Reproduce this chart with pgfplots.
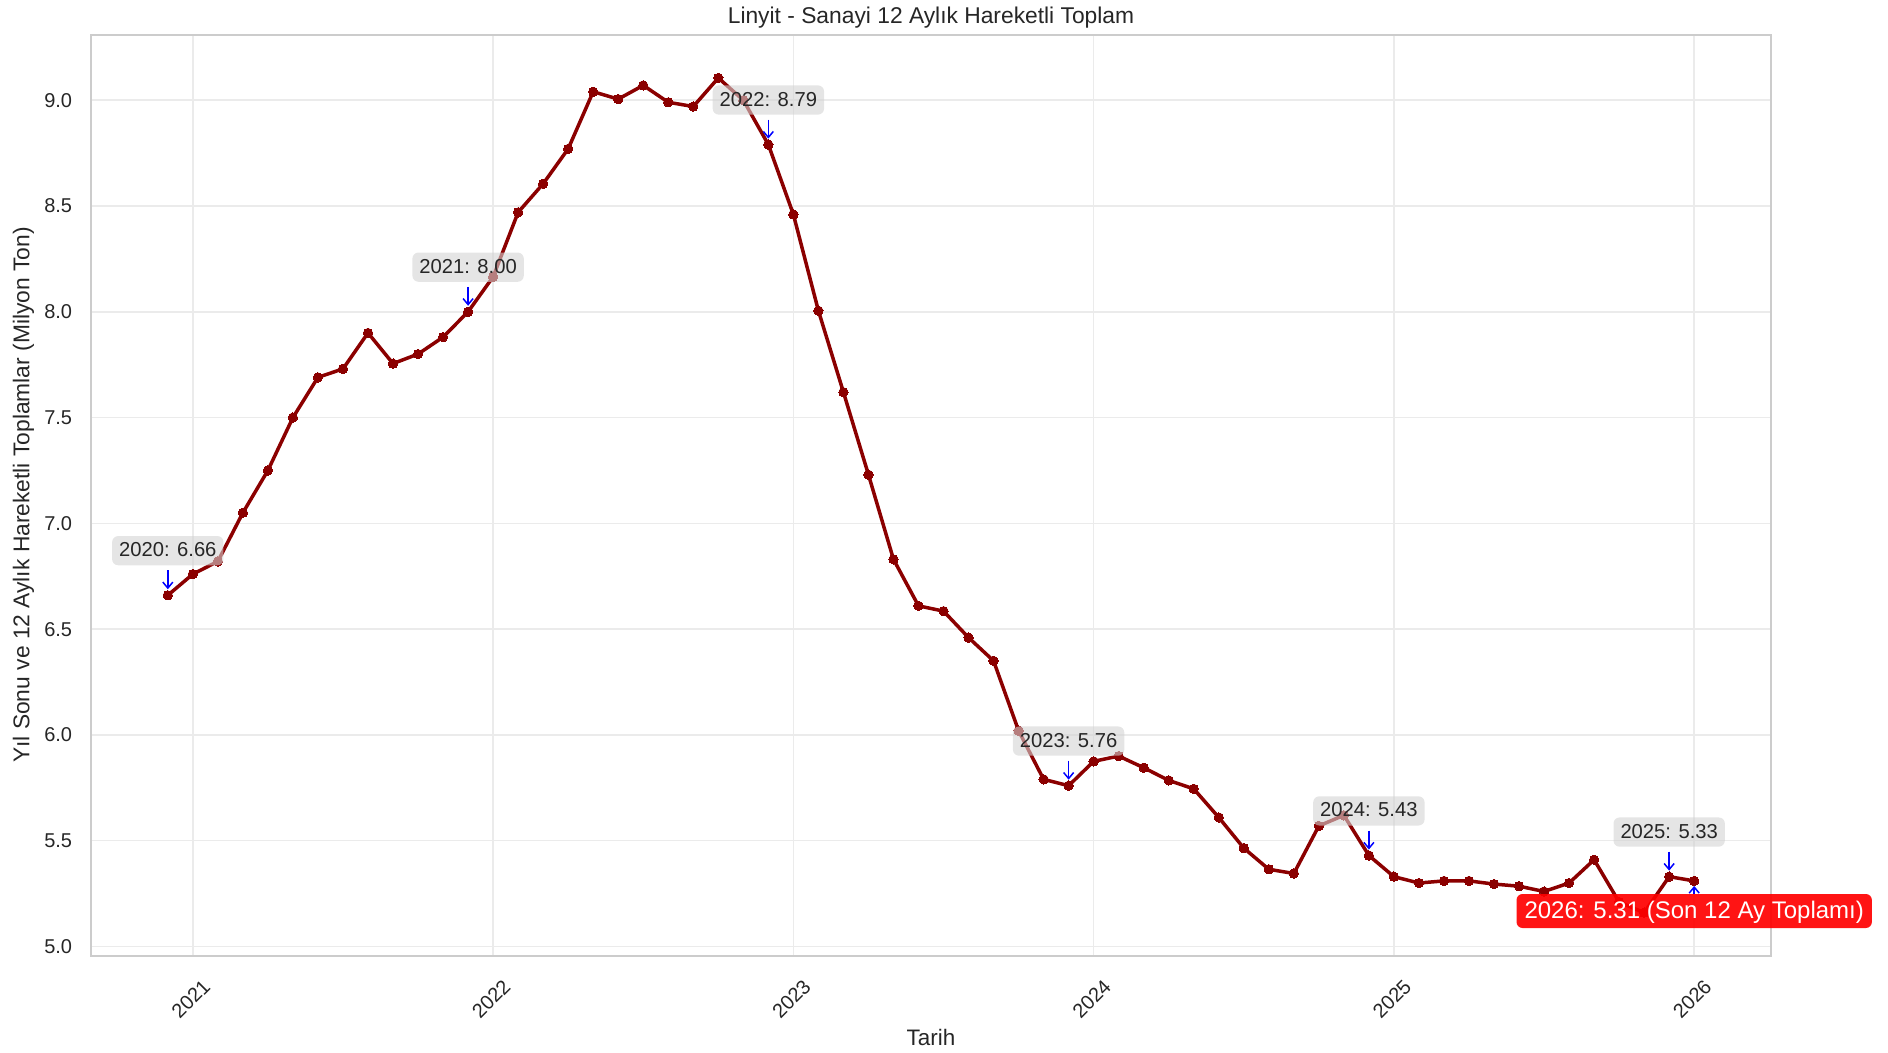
\documentclass[border=0pt]{standalone}
\usepackage{fontspec}
\setmainfont{Liberation Sans}
\usepackage{pgfplots}
\usepackage{pgfplotstable}
\pgfplotsset{compat=1.18}
\usetikzlibrary{arrows.meta}

\definecolor{txt}{HTML}{262626}
\definecolor{framec}{HTML}{CCCCCC}
\definecolor{gridc}{HTML}{EBEBEB}
\definecolor{linec}{HTML}{8B0000}
\definecolor{boxc}{HTML}{D3D3D3}

% month index: 0 = Dec 2020 ... 61 = Jan 2026
\pgfplotstableread{
m v
0 6.66
1 6.76
2 6.82
3 7.05
4 7.25
5 7.50
6 7.69
7 7.73
8 7.90
9 7.755
10 7.80
11 7.88
12 8.00
13 8.165
14 8.47
15 8.605
16 8.77
17 9.04
18 9.005
19 9.07
20 8.99
21 8.97
22 9.105
23 9.00
24 8.79
25 8.46
26 8.005
27 7.62
28 7.23
29 6.83
30 6.61
31 6.585
32 6.46
33 6.35
34 6.02
35 5.79
36 5.76
37 5.875
38 5.90
39 5.845
40 5.785
41 5.745
42 5.61
43 5.465
44 5.365
45 5.345
46 5.57
47 5.62
48 5.43
49 5.33
50 5.30
51 5.31
52 5.31
53 5.295
54 5.285
55 5.26
56 5.30
57 5.41
58 5.21
59 5.16
60 5.33
61 5.31
}\lignite

\begin{document}
\begin{tikzpicture}[
  annot/.style={fill=boxc, fill opacity=0.6, text opacity=1, text=txt,
    rounded corners=3pt, inner xsep=3.5pt, inner ysep=3pt,
    text height=7.3pt, text depth=1.3pt, font=\fontsize{10.1}{12}\selectfont,
    anchor=base, yshift=19.3pt},
  pointer/.style={blue, line width=0.75pt, -{Straight Barb[length=3pt, width=5pt]}}
]
\begin{axis}[
  scale only axis, width=839.5pt, height=460.5pt,
  xmin=-3.05, xmax=64.05, ymin=4.957, ymax=9.31,
  clip=false,
  xtick={1,13,25,37,49,61},
  xticklabels={2021,2022,2023,2024,2025,2026},
  ytick={5,5.5,6,6.5,7,7.5,8,8.5,9},
  yticklabel style={/pgf/number format/fixed, /pgf/number format/fixed zerofill,
    /pgf/number format/precision=1, /pgf/number format/assume math mode=true},
  grid=major,
  major grid style={gridc, line width=0.75pt},
  axis line style={framec, line width=1pt},
  major tick length=0pt,
  ticklabel style={font=\fontsize{10}{12}\selectfont, text=txt, inner sep=0pt},
  xticklabel style={xshift=-1pt, yshift=-21.7pt, rotate=45, anchor=center},
  yticklabel style={anchor=east, xshift=-9.5pt},
  every axis title/.style={at={(axis description cs:0.5,1)}, anchor=base, yshift=5.7pt,
    font=\fontsize{11.4}{13}\selectfont, text=txt},
  every axis x label/.style={at={(axis description cs:0.5,0)}, anchor=base, yshift=-44.9pt,
    font=\fontsize{11.2}{13}\selectfont, text=txt},
  every axis y label/.style={at={(axis description cs:0,0.5)}, xshift=-31pt, rotate=90, anchor=base,
    font=\fontsize{11.4}{13}\selectfont, text=txt},
  title={Linyit - Sanayi 12 Aylık Hareketli Toplam},
  xlabel={Tarih},
  ylabel={Yıl Sonu ve 12 Aylık Hareketli Toplamlar (Milyon Ton)},
]
\addplot[linec, line width=1.75pt, mark=*, mark size=2.35pt,
  mark options={solid, fill=linec, draw=linec, line width=0pt}]
  table[x=m, y=v] {\lignite};

% anchor points of the annotations (year-end values)
\coordinate (a20) at (axis cs:0,6.66);
\coordinate (a21) at (axis cs:12,8.00);
\coordinate (a22) at (axis cs:24,8.79);
\coordinate (a23) at (axis cs:36,5.76);
\coordinate (a24) at (axis cs:48,5.43);
\coordinate (a25) at (axis cs:60,5.33);
\coordinate (a26) at (axis cs:61,5.31);
\end{axis}

% annotations drawn above the line
\foreach \p/\t in {a20/{2020: 6.66}, a21/{2021: 8.00}, a22/{2022: 8.79},
                   a23/{2023: 5.76}, a24/{2024: 5.43}, a25/{2025: 5.33}} {
  \node[annot] at (\p) {\t};
  \draw[pointer] ([yshift=12.5pt]\p) -- ([yshift=3pt]\p);
}
\draw[pointer] ([yshift=-6.5pt]a26) -- ([yshift=-2.5pt]a26);
\node[fill=red, fill opacity=0.92, text opacity=1, text=white, rounded corners=3pt,
  inner xsep=4pt, inner ysep=3.5pt, text height=8.8pt, text depth=1.2pt,
  font=\fontsize{12}{14}\selectfont, anchor=base, yshift=-18.85pt]
  at (a26) {2026: 5.31 (Son 12 Ay Toplamı)};

\path ([shift={(-45.75pt,-48.5pt)}]current axis.south west)
  rectangle ([shift={(58.75pt,16pt)}]current axis.north east);
\end{tikzpicture}
\end{document}
